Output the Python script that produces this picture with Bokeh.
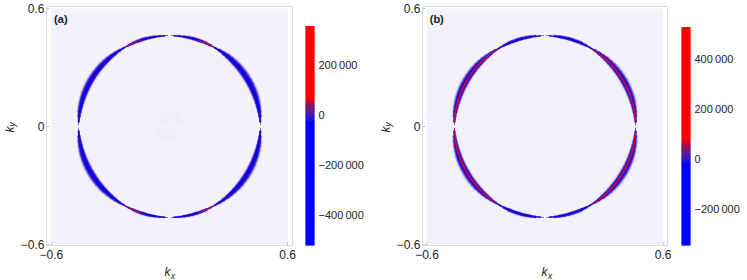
import math
from bokeh.embed import file_html
from bokeh.layouts import row
from bokeh.models import ColumnDataSource, Range1d, FixedTicker, LinearAxis
from bokeh.plotting import figure
from bokeh.resources import INLINE

# ---------- data ----------
ring_radius = 0.461
seg_step_deg = 3
# half thickness of the ring (k units) per 3 degree segment, from horizontal axis to vertical axis
a_q1 = [.001,.006,.010,.013,.015,.017,.019,.020,.021,.0215,.0215,.0215,.021,.0205,.0195,.018,.016,.013,.010,.006,.004,.007,.009,.010,.010,.0095,.008,.006,.004,.001]
a_q2 = [.001,.006,.010,.013,.015,.0165,.018,.019,.0195,.020,.020,.0195,.019,.0185,.0175,.016,.014,.012,.009,.006,.004,.007,.009,.010,.010,.0095,.008,.006,.004,.001]
a_q3 = [.001,.006,.010,.013,.015,.017,.0185,.0195,.0205,.021,.021,.0205,.020,.019,.018,.016,.014,.012,.009,.006,.004,.006,.008,.009,.0095,.009,.008,.006,.004,.001]
a_q4 = [.001,.006,.010,.013,.015,.0165,.018,.019,.0195,.020,.020,.0195,.019,.018,.0165,.015,.013,.011,.009,.006,.004,.006,.008,.009,.0095,.009,.008,.006,.004,.001]
b_q1 = [.001,.007,.011,.014,.016,.018,.0195,.0205,.021,.0215,.0215,.021,.0205,.0195,.018,.016,.014,.011,.008,.005,.005,.008,.010,.0105,.0105,.010,.009,.007,.004,.001]
b_q2 = b_q1
b_q3 = b_q1
b_q4 = b_q1
# peak signed value of each segment (same in each quadrant)
a_peak = [-50000,-200000,-300000,-400000,-450000,-480000,-500000,-510000,-520000,-520000,-520000,-520000,-510000,-500000,-480000,-450000,-400000,-350000,-300000,-200000,
          200000,300000,320000,200000,-200000,-300000,-250000,-200000,-100000,-50000]
b_peak = [100000,400000,480000,500000,510000,520000,520000,520000,520000,520000,520000,520000,520000,510000,500000,480000,450000,400000,300000,100000,
          -200000,-300000,-340000,-340000,-340000,-320000,-280000,-220000,-120000,-50000]

xticks = [-0.6, 0.6]
yticks = [-0.6, 0, 0.6]
tick_text = {-0.6: "\u22120.6", 0: "0", 0.6: "0.6"}
cb_a_ticks = [200000, 0, -200000, -400000]
cb_a_text = {200000: "200\u2009000", 0: "0", -200000: "\u2212200\u2009000", -400000: "\u2212400\u2009000"}
cb_b_ticks = [400000, 200000, 0, -200000]
cb_b_text = {400000: "400\u2009000", 200000: "200\u2009000", 0: "0", -200000: "\u2212200\u2009000"}
cb_a_edges = [-524000, -24000, -12000, 0, 12000, 24000, 36000, 48000, 60000, 352000]
cb_b_edges = [-348000, -16000, -4000, 8000, 20000, 32000, 44000, 56000, 72000, 524000]
cb_colors = ["#0000ff", "#2010e0", "#3a16c8", "#4c1aa8", "#601c90", "#7a1478", "#960e60", "#c00830", "#ff0000"]

BG = "#f4f1fb"
FONT = "Liberation Sans"
LAYERS = [(1.35, 1.0, "#e3dbf7"), (1.08, .78, "#a594ea"), (.85, .62, "#5540cc"), (.62, .46, "#2a0fc4"), (.36, .26, "#1000e4")]
QUAD = [lambda t: t, lambda t: 180 - t, lambda t: 180 + t, lambda t: 360 - t]


def ring(p, quads, peak):
    for fo, fi, col in LAYERS:
        d = dict(inner=[], outer=[], s=[], e=[])
        for q, widths in enumerate(quads):
            for i, w in enumerate(widths):
                a0, a1 = QUAD[q](i * seg_step_deg - .3), QUAD[q]((i + 1) * seg_step_deg + .3)
                d["inner"].append(ring_radius - fi * w)
                d["outer"].append(ring_radius + fo * w)
                d["s"].append(math.radians(min(a0, a1)))
                d["e"].append(math.radians(max(a0, a1)))
        p.annular_wedge(x=0, y=0, inner_radius="inner", outer_radius="outer", start_angle="s", end_angle="e",
                        source=ColumnDataSource(d), fill_color=col, line_color=None)
    for scale, col in [(1.0e-8, "#6a1a98"), (0.5e-8, "#f00010")]:
        d = dict(inner=[], outer=[], s=[], e=[])
        for q in range(4):
            for i, v in enumerate(peak):
                if v > 0:
                    a0, a1 = QUAD[q](i * seg_step_deg - .3), QUAD[q]((i + 1) * seg_step_deg + .3)
                    d["inner"].append(ring_radius - scale * v)
                    d["outer"].append(ring_radius + scale * v)
                    d["s"].append(math.radians(min(a0, a1)))
                    d["e"].append(math.radians(max(a0, a1)))
        p.annular_wedge(x=0, y=0, inner_radius="inner", outer_radius="outer", start_angle="s", end_angle="e",
                        source=ColumnDataSource(d), fill_color=col, line_color=None)
    p.scatter(x=[ring_radius, -ring_radius, 0, 0], y=[0, 0, ring_radius, -ring_radius], size=2.5, marker="circle",
              fill_color="#ffffff", line_color=None)


def text_axis(pos, text, size, standoff, orient=None):
    ax = LinearAxis(ticker=FixedTicker(ticks=[pos]), major_label_overrides={pos: text},
                    major_label_text_font=FONT, major_label_text_font_size=size,
                    major_label_text_font_style="italic", major_label_text_color="#222222",
                    major_label_standoff=standoff, axis_line_color=None, major_tick_line_color=None,
                    minor_tick_line_color=None, major_tick_in=0, major_tick_out=0)
    if orient:
        ax.major_label_orientation = orient
    return ax


def panel(tag, quads, peak, left, frame_w, right, half_x, k_pos, sx_pos, ky_sub_so, ky_k_so):
    p = figure(width=left + frame_w + right, height=280, frame_width=frame_w, frame_height=239,
               min_border_left=left, min_border_right=right, min_border_top=6, min_border_bottom=35,
               x_range=Range1d(-half_x, half_x), y_range=Range1d(-0.605, 0.61),
               output_backend="svg", toolbar_location=None)
    p.grid.visible = False
    p.background_fill_color = "#ffffff"
    p.outline_line_color = "#dcd9e2"
    p.quad(left=[-0.6], right=[0.6], bottom=[-0.6], top=[0.6], fill_color=BG, line_color=None)
    if tag == "(a)":
        p.annular_wedge(x=0, y=0, inner_radius=0, outer_radius=0.075, start_angle=[.4, -2.9], end_angle=[2.9, -.4],
                        fill_color="#f1edf9", line_color=None)
    ring(p, quads, peak)
    p.text(x=[-0.586], y=[0.544], text=[tag], text_font_size="11px", text_font=dict(value=FONT),
           text_font_style="bold", text_baseline="middle", text_color="#1a1a1a")
    for ax, ticks in ((p.xaxis[0], xticks), (p.yaxis[0], yticks)):
        ax.ticker = FixedTicker(ticks=ticks)
        ax.major_label_overrides = tick_text
        ax.major_label_text_font = FONT
        ax.major_label_text_font_size = "12px"
        ax.major_label_text_color = "#222222"
        ax.axis_line_color = "#dcd9e2"
        ax.major_tick_line_color = "#c8c6ce"
        ax.major_tick_in = 3
        ax.major_tick_out = 0
        ax.minor_tick_line_color = None
    p.xaxis[0].major_label_standoff = 4
    p.yaxis[0].major_label_standoff = 2
    p.add_layout(text_axis(k_pos, "k", "12px", 3), "below")
    p.add_layout(text_axis(sx_pos, "x", "9px", -11), "below")
    p.add_layout(text_axis(0.01, "y", "9px", ky_sub_so, "vertical"), "left")
    p.add_layout(text_axis(-0.015, "k", "12px", ky_k_so, "vertical"), "left")
    return p


def colorbar(edges, top, ticks, text, left, right):
    p = figure(width=left + 9 + right, height=280, frame_width=9, frame_height=239,
               min_border_left=left, min_border_right=right, min_border_top=6, min_border_bottom=35,
               x_range=Range1d(0, 1), y_range=Range1d(edges[0], top), y_axis_location="right",
               output_backend="svg", toolbar_location=None)
    p.grid.visible = False
    p.xaxis.visible = False
    p.outline_line_color = None
    p.quad(left=0, right=1, bottom=edges[:-1], top=edges[1:], fill_color=cb_colors, line_color=cb_colors)
    ax = p.yaxis[0]
    ax.ticker = FixedTicker(ticks=ticks)
    ax.major_label_overrides = text
    ax.major_label_text_font = FONT
    ax.major_label_text_font_size = "11px"
    ax.major_label_text_color = "#222222"
    ax.axis_line_color = None
    ax.major_tick_line_color = None
    ax.major_tick_in = 0
    ax.major_tick_out = 0
    ax.minor_tick_line_color = None
    ax.major_label_standoff = 4
    return p


pa = panel("(a)", [a_q1, a_q2, a_q3, a_q4], a_peak, 46, 246, 8, 0.6246, -0.01, 0.018, 0, -13)
ca = colorbar(cb_a_edges, 432000, cb_a_ticks, cb_a_text, 5, 59)
pb = panel("(b)", [b_q1, b_q2, b_q3, b_q4], b_peak, 49, 245, 6, 0.6228, -0.003, 0.025, 0, -13)
cb = colorbar(cb_b_edges, 608000, cb_b_ticks, cb_b_text, 8, 57)

root = row(pa, ca, pb, cb, spacing=0)
open("out.html", "w").write(file_html(root, INLINE))
